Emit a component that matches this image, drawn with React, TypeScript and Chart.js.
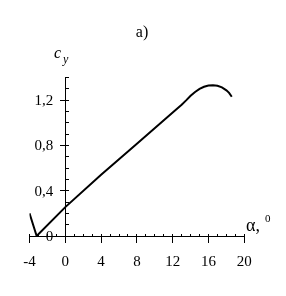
import React, { useEffect, useRef } from "react";
import { Chart, registerables } from "chart.js";

Chart.register(...registerables);

// Data
const alphaDeg: number[] = [-4, -3.2, 0, 4, 8, 12, 13.0, 13.5, 14.0, 14.5, 15.0, 15.5, 16.0, 16.5, 17.0, 17.5, 18.0, 18.3, 18.6];
const cyValues: number[] = [0.2, 0, 0.255, 0.54, 0.815, 1.09, 1.16, 1.198, 1.238, 1.272, 1.3, 1.318, 1.33, 1.332, 1.327, 1.313, 1.287, 1.264, 1.23];

const xMin = -4;
const xMax = 20;
const xMajorStep = 4;
const xMinorStep = 1;
const yMin = 0;
const yMax = 1.4;
const yMajorStep = 0.4;
const yMinorStep = 0.1;

const titleText = "a)";
const yAxisLabel = "c";
const yAxisSub = "y";
const xAxisLabel = "α,";
const xAxisSup = "0";

const FONT = "'Liberation Serif', 'Times New Roman', serif";

const fmt = (v: number) => {
  const r = Math.round(v * 10) / 10;
  return String(r).replace(".", ",");
};

const textPlugin = {
  id: "annotText",
  afterDraw(chart: any) {
    const ctx = chart.ctx as CanvasRenderingContext2D;
    const xs = chart.scales.x;
    const ys = chart.scales.y;
    ctx.save();
    ctx.fillStyle = "#000";
    // y tick labels, taken from the y scale's own ticks
    ctx.font = `15px ${FONT}`;
    ctx.textAlign = "right";
    ctx.textBaseline = "middle";
    const x0 = xs.getPixelForValue(0);
    ys.ticks.forEach((t: any) => {
      ctx.fillText(fmt(t.value), x0 - 12, ys.getPixelForValue(t.value) + 1);
    });
    ctx.textBaseline = "alphabetic";
    // title
    ctx.font = `16px ${FONT}`;
    ctx.textAlign = "center";
    ctx.fillText(titleText, 142, 37);
    // y axis label
    ctx.textAlign = "left";
    ctx.font = `italic 16px ${FONT}`;
    ctx.fillText(yAxisLabel, 54, 58);
    ctx.font = `italic 12px ${FONT}`;
    ctx.fillText(yAxisSub, 63, 63);
    // x axis label
    ctx.font = `18px ${FONT}`;
    ctx.fillText(xAxisLabel, 246, 231);
    ctx.font = `11px ${FONT}`;
    ctx.fillText(xAxisSup, 265, 222);
    ctx.restore();
  },
};

export default function App() {
  const canvasRef = useRef<HTMLCanvasElement | null>(null);

  useEffect(() => {
    if (!canvasRef.current) return;
    const points = alphaDeg.map((x, i) => ({ x, y: cyValues[i] }));
    const axisBorder = { display: true, color: "#000", width: 1 };
    const chart = new Chart(canvasRef.current, {
      type: "scatter",
      data: {
        datasets: [
          {
            data: points,
            showLine: true,
            borderColor: "#000",
            borderWidth: 2,
            pointRadius: 0,
            tension: 0,
            xAxisID: "x",
            yAxisID: "y",
          },
        ],
      },
      options: {
        animation: false,
        responsive: false,
        devicePixelRatio: 1,
        layout: { padding: { left: 29.5, right: 41.7, top: 77.5, bottom: 60 } },
        plugins: { legend: { display: false }, tooltip: { enabled: false }, title: { display: false } },
        scales: {
          x: {
            type: "linear",
            min: xMin,
            max: xMax,
            position: { y: 0 } as any,
            border: axisBorder,
            grid: { drawOnChartArea: false, drawTicks: true, tickLength: 6, tickColor: "#000", tickWidth: 1 },
            ticks: {
              stepSize: xMajorStep,
              color: "#000",
              font: { family: FONT, size: 15 },
              padding: 11,
              maxRotation: 0,
              callback: (v: any) => fmt(Number(v)),
            },
          },
          xMinor: {
            type: "linear",
            axis: "x",
            min: xMin,
            max: xMax,
            position: { y: 0 } as any,
            border: axisBorder,
            grid: { drawOnChartArea: false, drawTicks: true, tickLength: -3, tickColor: "#000", tickWidth: 1 },
            ticks: { stepSize: xMinorStep, display: false, autoSkip: false, maxTicksLimit: 100 },
          },
          y: {
            type: "linear",
            min: yMin,
            max: yMax,
            position: { x: 0 } as any,
            border: axisBorder,
            grid: { drawOnChartArea: false, drawTicks: true, tickLength: 5, tickColor: "#000", tickWidth: 1 },
            ticks: {
              stepSize: yMajorStep,
              includeBounds: false,
              display: false,
            },
          },
          yMinor: {
            type: "linear",
            axis: "y",
            min: yMin,
            max: yMax,
            position: { x: 0 } as any,
            border: axisBorder,
            grid: { drawOnChartArea: false, drawTicks: true, tickLength: -4, tickColor: "#000", tickWidth: 1 },
            ticks: { stepSize: yMinorStep, display: false, autoSkip: false, maxTicksLimit: 100 },
          },
        },
      } as any,
      plugins: [textPlugin],
    });
    return () => chart.destroy();
  }, []);

  return (
    <div style={{ position: "absolute", left: 0, top: 0, width: 286, height: 296, background: "#fff" }}>
      <canvas ref={canvasRef} width={286} height={296} />
    </div>
  );
}
